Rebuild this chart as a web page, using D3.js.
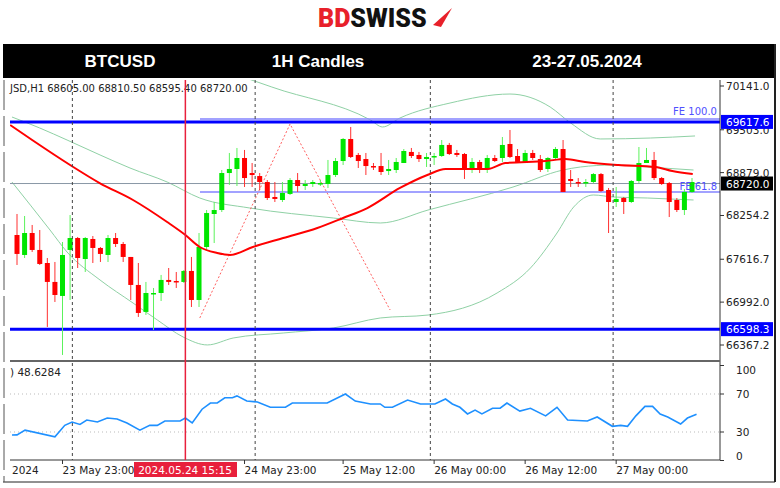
<!DOCTYPE html>
<html>
<head>
<meta charset="utf-8">
<script src="https://cdn.jsdelivr.net/npm/d3@7"></script>
<style>
  body { margin: 0; background: #fff; }
  svg { display: block; font-family: "DejaVu Sans", sans-serif; }
</style>
</head>
<body>
<svg id="chart" width="780" height="488"></svg>
<script>
// 1H candles, index 0 = 23 May 17:00
const open = [67970,67679,67999,67752,67562,67286,67082,67752,67926,67620,
  67912,67781,67679,67926,67839,67650,67242,66849,67111,67125,
  67315,67300,67286,67446,67023,67795,68276,68334,68873,68932,
  69092,68873,68829,68742,68524,68480,68568,68771,68684,68713,
  68713,68713,68844,69048,69369,69136,69077,68975,68975,68902,
  68917,69019,69180,69136,69077,69107,69121,69282,69165,69150,
  68917,69034,68946,69092,69092,69296,69121,69034,69165,69077,
  68932,69092,69223,68786,68742,68727,68742,68858,68626,68451,
  68509,68451,68757,69019,69063,68800,68727,68480,68334,68597];
const close = [67694,67999,67752,67548,67286,67096,67679,67926,67635,67926,
  67781,67694,67926,67839,67650,67242,66834,67125,67125,67315,
  67286,67286,67446,67023,67795,68290,68334,68873,68932,69092,
  68800,68844,68742,68509,68495,68582,68771,68684,68713,68742,
  68727,68844,69048,69369,69107,69048,68975,68961,68888,68932,
  69034,69194,69121,69077,69107,69121,69282,69150,69136,68932,
  69034,68932,69092,69048,69282,69107,69034,69165,69092,68917,
  69092,69223,68597,68757,68727,68742,68858,68611,68451,68495,
  68451,68757,69019,69063,68800,68713,68451,68334,68597,68742];
const high = [68276,68247,68116,68043,67635,67577,67868,68261,67941,67941,
  67955,67795,67970,67999,67868,67650,67562,67286,67198,67388,
  67489,67431,67460,67650,67999,68334,68451,68917,69165,69238,
  69209,69019,68873,68771,68742,68742,68800,68873,68771,68771,
  68771,69063,69092,69383,69544,69165,69165,69019,69165,69063,
  69092,69223,69238,69180,69165,69165,69354,69311,69209,69165,
  69092,69063,69136,69136,69398,69500,69223,69209,69209,69136,
  69107,69252,69354,68917,68800,68786,68873,68873,68655,68670,
  68524,68771,69252,69238,69180,68815,68742,68509,68640,68800];
const low = [67533,67635,67723,67533,66630,66994,66222,67023,67489,67431,
  67562,67577,67577,67795,67577,67023,66776,66805,66586,67008,
  67242,67198,67271,66921,66921,67752,67853,68305,68699,68684,
  68670,68670,68626,68480,68451,68451,68553,68597,68626,68670,
  68684,68655,68815,68990,69092,68946,68844,68917,68844,68844,
  68873,69019,69092,69034,68961,68990,69107,69136,69107,68786,
  68873,68873,68873,69034,69034,69092,69019,69019,69063,68888,
  68888,69063,68597,68670,68670,68670,68727,68597,67999,68378,
  68276,68436,68727,69019,68771,68699,68232,68305,68261,68582];

// indicator lines sampled as [candle index, price]
const maLine = [[-0.9,69573],[2,69354],[7,68990],[10.9,68727],[15.3,68480],[19.8,68159],[22.2,67970],
  [24.1,67795],[26.4,67708],[28.1,67679],[31.1,67795],[35.1,67926],[39.6,68072],[43,68218],[46.2,68363],
  [50.5,68655],[54.1,68844],[56.5,68932],[59.1,68932],[62.1,68932],[64.4,69019],[69.7,69048],[72.3,69077],
  [74.9,69034],[79.3,68990],[84.2,68961],[86.4,68902],[89.1,68858]];
const bandMid = [[-0.66,69689],[3,69529],[6.6,69354],[10.95,69136],[14.9,68946],[19.8,68742],[24.1,68509],
  [30.7,68363],[41.7,68218],[47.9,68145],[54.2,68334],[65.4,68669],[72,68917],[74.3,68961],[78.6,68990],
  [83.1,68961],[89.2,68917]];
const bandLow = [[-0.66,68742],[4.35,68043],[6.6,67722],[10.95,67314],[15.3,66979],[18.5,66732],[21.9,66484],
  [25.1,66368],[28.5,66469],[35.1,66542],[41.7,66615],[47.9,66761],[54.2,66804],[63.3,67125],[67.7,67489],
  [71.2,67999],[73.4,68378],[76,68553],[78.6,68524],[83.1,68509],[89.2,68480]];
const bandUp = [[17.5,70957],[26.8,70403],[33.6,70126],[46.6,69646],[48.2,69544],[50.5,69675],[57.1,69893],
  [65,70024],[70.3,69835],[73,69602],[76.9,69369],[83.5,69383],[89.4,69413]];
const zigzag = [[24.1,66761],[36,69587],[49.2,66877]];

const rsi = [[-0.66,26.8],[0,27],[1.06,32],[5,25],[6.3,37],[7.26,40.5],[8.3,38],[9.2,42.6],[10.6,40.5],
  [11.9,44.7],[13.2,43.7],[14.5,39.5],[16.2,32],[17.5,37],[18.5,37],[19.5,41.6],[21.5,41.6],[22.2,44.7],
  [23.1,39.5],[24.4,54],[25.5,60.5],[26.4,60.5],[27.4,66],[28.4,66],[29,68],[30.3,62.6],[31.7,61.6],
  [33.4,56],[35.4,56],[36.3,60.5],[40.9,60.5],[43.3,70],[44.6,62.6],[46.6,59.5],[47.9,59.5],[48.5,56],
  [49.5,56],[51.5,63.7],[53.2,59.5],[55.1,59.5],[56.5,64.7],[57.4,59.5],[58.4,56],[59.4,49],[60.4,53],
  [61.3,49],[62.7,55],[63.7,55],[64.6,60.5],[66.3,52],[67.7,55],[69.7,47],[71.2,56],[72.6,42.6],
  [75.2,41.6],[76.5,45.8],[78.5,36],[79.6,37],[80.5,36],[81.6,47],[82.8,57],[83.8,57],[84.8,49],
  [85.8,45.8],[87.5,38.4],[88.4,44.7],[89.6,48.6]];

const priceTicks = [70141.0, 69503.0, 68879.0, 68254.2, 67616.7, 66992.0, 66367.2];
const levels = [
  { value: 69617.6, label: "69617.6", bg: "#0000ff" },
  { value: 68720.0, label: "68720.0", bg: "#000000" },
  { value: 66598.3, label: "66598.3", bg: "#0000ff" }
];
const fibLevels = [{ value: 69617.6, label: "FE 100.0" }, { value: 68597, label: "FE 61.8" }];
const rsiTicks = [100, 70, 30, 0];
const timeLabels = [[6, "23 May 23:00"], [30, "24 May 23:00"], [43, "25 May 12:00"],
  [55, "26 May 00:00"], [67, "26 May 12:00"], [79, "27 May 00:00"]];
const dayLines = [7.3, 31.4, 54.5, 78.6];
const cursorIndex = 22.2;

const svg = d3.select("#chart");
const x = d3.scaleLinear().domain([0, 89]).range([17, 692]);
const y = d3.scaleLinear().domain([66367.2, 70141]).range([345, 86]);
const yr = d3.scaleLinear().domain([0, 100]).range([460.5, 365.5]);

// logo
const logo = svg.append("text").attr("x", 318).attr("y", 27)
  .attr("font-family", "Roboto, sans-serif").attr("font-weight", 900).attr("font-size", 25);
logo.append("tspan").attr("fill", "#e8202a").text("BD");
logo.append("tspan").attr("fill", "#111").text("SWISS");
svg.append("path").attr("d", "M433,25 L452,8 L441,27 Z").attr("fill", "#e8202a");

// header bar
svg.append("rect").attr("x", 3).attr("y", 44).attr("width", 772).attr("height", 34).attr("fill", "#000");
[[120, "BTCUSD"], [318, "1H Candles"], [587, "23-27.05.2024"]].forEach(([cx, t]) => {
  svg.append("text").attr("x", cx).attr("y", 67).attr("text-anchor", "middle")
    .attr("fill", "#fff").attr("font-family", "Liberation Sans, Arial, sans-serif")
    .attr("font-weight", "bold").attr("font-size", 17).text(t);
});

svg.append("defs").append("clipPath").attr("id", "plot")
  .append("rect").attr("x", 10).attr("y", 80).attr("width", 710).attr("height", 280);
svg.select("defs").append("clipPath").attr("id", "rsiClip")
  .append("rect").attr("x", 10).attr("y", 363).attr("width", 710).attr("height", 97);
svg.select("defs").append("clipPath").attr("id", "axisClip")
  .append("rect").attr("x", 720).attr("y", 78).attr("width", 53).attr("height", 290);

const plot = svg.append("g").attr("clip-path", "url(#plot)");
const lineGen = d3.line().x(d => x(d[0])).y(d => y(d[1])).curve(d3.curveMonotoneX);

dayLines.forEach(i => {
  [[80, 360], [363, 460]].forEach(([a, b]) => {
    svg.append("line").attr("x1", x(i)).attr("x2", x(i)).attr("y1", a).attr("y2", b)
      .attr("stroke", "#444").attr("stroke-dasharray", "3,3");
  });
});

plot.append("path").datum(bandUp).attr("d", lineGen).attr("fill", "none").attr("stroke", "#8fd1a5");
plot.append("path").datum(bandMid).attr("d", lineGen).attr("fill", "none").attr("stroke", "#8fd1a5");
plot.append("path").datum(bandLow).attr("d", lineGen).attr("fill", "none").attr("stroke", "#8fd1a5");

plot.append("line").attr("x1", 10).attr("x2", 720).attr("y1", y(68720)).attr("y2", y(68720))
  .attr("stroke", "#8a98a6");
fibLevels.forEach(f => {
  plot.append("line").attr("x1", 200).attr("x2", 720).attr("y1", y(f.value) - (f.value > 69000 ? 3 : 0))
    .attr("y2", y(f.value) - (f.value > 69000 ? 3 : 0)).attr("stroke", "#8c8cff").attr("stroke-width", 2).attr("opacity", 0.8);
  svg.append("text").attr("x", 717).attr("y", y(f.value) - (f.value > 69000 ? 7 : 2)).attr("text-anchor", "end")
    .attr("fill", "#5050ff").attr("font-size", 10).text(f.label);
});
[69617.6, 66598.3].forEach(v => {
  plot.append("line").attr("x1", 10).attr("x2", 720).attr("y1", y(v)).attr("y2", y(v))
    .attr("stroke", "#0000ff").attr("stroke-width", 3);
});

plot.append("path").datum(zigzag).attr("d", d3.line().x(d => x(d[0])).y(d => y(d[1])))
  .attr("fill", "none").attr("stroke", "#ff6060").attr("stroke-dasharray", "2,2");

const candles = plot.append("g").selectAll("g").data(open).join("g");
candles.append("line")
  .attr("x1", (d, i) => x(i)).attr("x2", (d, i) => x(i))
  .attr("y1", (d, i) => y(high[i])).attr("y2", (d, i) => y(low[i]))
  .attr("stroke", (d, i) => close[i] >= d ? "#5cf25c" : "#ff3030");
candles.append("rect")
  .attr("x", (d, i) => x(i) - 2.5).attr("width", 5)
  .attr("y", (d, i) => y(Math.max(d, close[i])))
  .attr("height", (d, i) => Math.max(1.5, Math.abs(y(d) - y(close[i]))))
  .attr("fill", (d, i) => close[i] >= d ? "#00e600" : "#ff0000");

plot.append("path").datum(maLine).attr("d", lineGen).attr("fill", "none")
  .attr("stroke", "#ff0000").attr("stroke-width", 2);

// frames
svg.append("line").attr("x1", 720).attr("x2", 720).attr("y1", 80).attr("y2", 460).attr("stroke", "#333");
svg.append("line").attr("x1", 10).attr("x2", 720).attr("y1", 361).attr("y2", 361).attr("stroke", "#666").attr("stroke-width", 2);
svg.append("line").attr("x1", 10).attr("x2", 720).attr("y1", 460).attr("y2", 460).attr("stroke", "#333");
svg.append("line").attr("x1", 3).attr("x2", 775).attr("y1", 482).attr("y2", 482).attr("stroke", "#222");
svg.append("line").attr("x1", 775).attr("x2", 775).attr("y1", 44).attr("y2", 482).attr("stroke", "#222").attr("stroke-width", 2);
svg.append("line").attr("x1", 4).attr("x2", 4).attr("y1", 80).attr("y2", 482).attr("stroke", "#555").attr("stroke-dasharray", "30,6");

// price axis
const axisG = svg.append("g").attr("clip-path", "url(#axisClip)");
priceTicks.forEach(v => {
  axisG.append("line").attr("x1", 720).attr("x2", 724).attr("y1", y(v)).attr("y2", y(v)).attr("stroke", "#333");
  axisG.append("text").attr("x", 726).attr("y", y(v) + 4).attr("font-size", 10.5).attr("fill", "#222").text(v.toFixed(1));
});
levels.forEach(l => {
  axisG.append("rect").attr("x", 721).attr("y", y(l.value) - 7).attr("width", 55).attr("height", 14).attr("fill", l.bg);
  axisG.append("text").attr("x", 726).attr("y", y(l.value) + 4).attr("font-size", 10.5).attr("fill", "#fff").text(l.label);
});

svg.append("text").attr("x", 10).attr("y", 92).attr("font-size", 10).attr("fill", "#222")
  .text("JSD,H1  68605.00 68810.50 68595.40 68720.00");

// RSI panel
[70, 30].forEach(v => {
  svg.append("line").attr("x1", 10).attr("x2", 720).attr("y1", yr(v)).attr("y2", yr(v))
    .attr("stroke", "#bbb").attr("stroke-dasharray", "1,3");
});
svg.append("g").attr("clip-path", "url(#rsiClip)").append("path").datum(rsi)
  .attr("d", d3.line().x(d => x(d[0])).y(d => yr(d[1])))
  .attr("fill", "none").attr("stroke", "#1e90ff").attr("stroke-width", 1.6);
rsiTicks.forEach(v => {
  svg.append("line").attr("x1", 720).attr("x2", 724).attr("y1", yr(v)).attr("y2", yr(v)).attr("stroke", "#333");
  svg.append("text").attr("x", 736).attr("y", yr(Math.min(95, Math.max(5, v))) + 4).attr("font-size", 10.5).attr("fill", "#222").text(v);
});
svg.append("text").attr("x", 10).attr("y", 376).attr("font-size", 10.5).attr("fill", "#222").text(") 48.6284");

// cursor line
svg.append("line").attr("x1", x(cursorIndex)).attr("x2", x(cursorIndex)).attr("y1", 80).attr("y2", 460)
  .attr("stroke", "#e8203c").attr("stroke-width", 1.5);

// time axis
svg.append("text").attr("x", 12).attr("y", 474).attr("font-size", 10.5).attr("fill", "#222").text("2024");
timeLabels.forEach(([i, t]) => {
  svg.append("line").attr("x1", x(i)).attr("x2", x(i)).attr("y1", 460).attr("y2", 464).attr("stroke", "#333");
  svg.append("text").attr("x", x(i)).attr("y", 474).attr("font-size", 10.5).attr("fill", "#222").text(t);
});
svg.append("rect").attr("x", 134).attr("y", 462).attr("width", 103).attr("height", 15).attr("fill", "#e8203c");
svg.append("text").attr("x", 185).attr("y", 474).attr("text-anchor", "middle").attr("font-size", 10.5)
  .attr("fill", "#fff").text("2024.05.24 15:15");
</script>
</body>
</html>
